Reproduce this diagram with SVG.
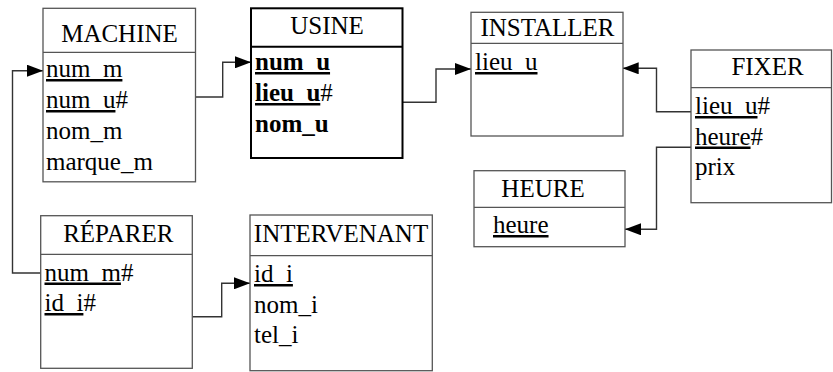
<svg xmlns="http://www.w3.org/2000/svg" width="833" height="372" viewBox="0 0 833 372">
<defs>
<marker id="arr" markerUnits="userSpaceOnUse" markerWidth="16" markerHeight="12" refX="16" refY="6" orient="auto">
<path d="M0,0 L16,6 L0,12 z" fill="#000"/>
</marker>
<style>
.box{fill:#fff;stroke:#555;stroke-width:1.3}
.boxb{fill:#fff;stroke:#000;stroke-width:2}
.sep{stroke:#555;stroke-width:1.3}
.sepb{stroke:#000;stroke-width:2}
text{font-family:"Liberation Serif","Times New Roman",serif;font-size:25px;fill:#000}
.h{text-anchor:middle}
.b{font-weight:bold}
.u{text-decoration:underline}
.c{fill:none;stroke:#333;stroke-width:1.4;marker-end:url(#arr)}
</style>
</defs>
<rect width="833" height="372" fill="#fff"/>
<g id="connectors">
<path class="c" d="M40.7,273 H12.5 V70.7 H43"/>
<path class="c" d="M195.7,97 H222.7 V62.3 H251"/>
<path class="c" d="M402,102.3 H436 V69 H471"/>
<path class="c" d="M691,111.7 H656.5 V68.3 H622.7"/>
<path class="c" d="M691,147.3 H656.5 V229.3 H625"/>
<path class="c" d="M192.3,316.7 H221.7 V283.3 H250"/>
</g>
<g id="machine">
<rect class="box" x="43" y="8.3" width="152.5" height="173.5"/>
<line class="sep" x1="43" y1="52.3" x2="195.5" y2="52.3"/>
<text class="h" x="119.5" y="42">MACHINE</text>
<text x="46" y="77"><tspan class="u">num_m</tspan></text>
<text x="46" y="108"><tspan class="u">num_u</tspan>#</text>
<text x="46" y="139">nom_m</text>
<text x="46" y="170">marque_m</text>
</g>
<g id="usine">
<rect class="boxb" x="251" y="8.3" width="151.5" height="149.7"/>
<line class="sepb" x1="251" y1="46.7" x2="402.5" y2="46.7"/>
<text class="h" x="327" y="34">USINE</text>
<text class="b" x="255" y="70"><tspan class="u">num_u</tspan></text>
<text x="255" y="101"><tspan class="u b">lieu_u</tspan>#</text>
<text class="b" x="255" y="132">nom_u</text>
</g>
<g id="installer">
<rect class="box" x="471" y="12.3" width="152" height="123.7"/>
<line class="sep" x1="471" y1="43.3" x2="623" y2="43.3"/>
<text class="h" x="547.5" y="36">INSTALLER</text>
<text x="475" y="70"><tspan class="u">lieu_u</tspan></text>
</g>
<g id="fixer">
<rect class="box" x="691" y="50" width="140.5" height="152.7"/>
<line class="sep" x1="691" y1="87.7" x2="831.5" y2="87.7"/>
<text class="h" x="767.5" y="75">FIXER</text>
<text x="695" y="114"><tspan class="u">lieu_u</tspan>#</text>
<text x="695" y="144.5"><tspan class="u">heure</tspan>#</text>
<text x="695" y="175">prix</text>
</g>
<g id="heure">
<rect class="box" x="474" y="170.7" width="151" height="76"/>
<line class="sep" x1="474" y1="207.3" x2="625" y2="207.3"/>
<text class="h" x="543" y="197">HEURE</text>
<text x="493" y="233"><tspan class="u">heure</tspan></text>
</g>
<g id="reparer">
<rect class="box" x="40.7" y="215.7" width="151.6" height="152.6"/>
<line class="sep" x1="40.7" y1="254.3" x2="192.3" y2="254.3"/>
<text class="h" x="118.3" y="241.7">RÉPARER</text>
<text x="44.5" y="280.5"><tspan class="u">num_m</tspan>#</text>
<text x="44.5" y="311"><tspan class="u">id_i</tspan>#</text>
</g>
<g id="intervenant">
<rect class="box" x="250" y="215" width="182.3" height="155.7"/>
<line class="sep" x1="250" y1="255.7" x2="432.3" y2="255.7"/>
<text class="h" x="341" y="241.7">INTERVENANT</text>
<text x="254" y="282"><tspan class="u">id_i</tspan></text>
<text x="254" y="312.5">nom_i</text>
<text x="254" y="343">tel_i</text>
</g>
</svg>
